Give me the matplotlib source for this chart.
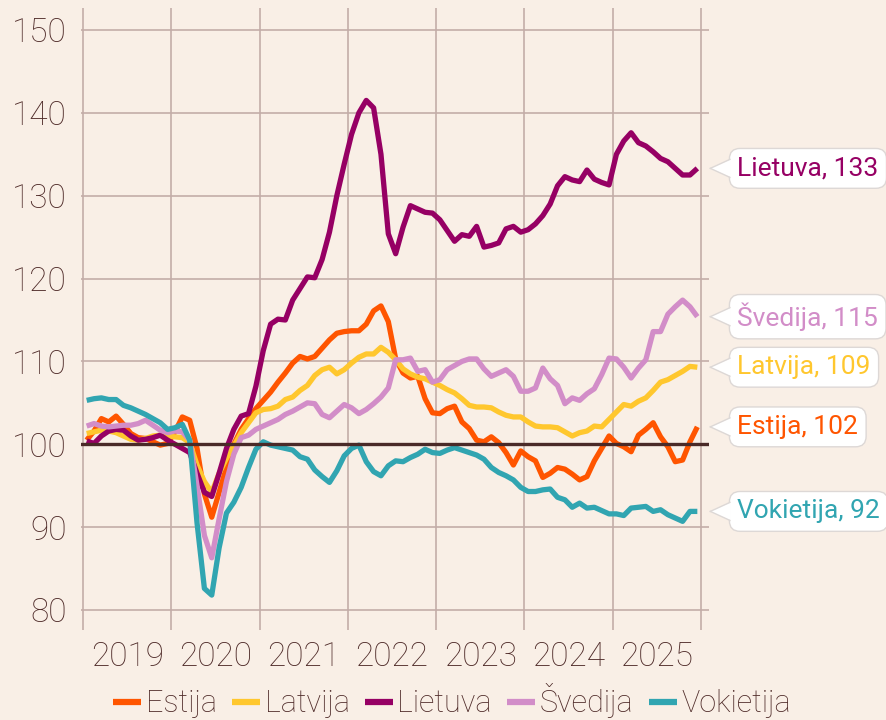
import numpy as np
import matplotlib
matplotlib.use("Agg")
import matplotlib.pyplot as plt
from matplotlib.patches import Polygon
from matplotlib.lines import Line2D
from matplotlib.transforms import IdentityTransform

plt.rcParams['font.family'] = ['Roboto', 'DejaVu Sans']

# ---------------- data (monthly index, Jan 2019 .. Dec 2025) ----------------
years = ['2019', '2020', '2021', '2022', '2023', '2024', '2025']
countries = ['Estija', 'Latvija', 'Lietuva', 'Švedija', 'Vokietija']

estija = [100.5, 101.6, 103.1, 102.7, 103.4, 102.4, 101.3, 100.8, 100.7, 100.3, 99.9, 100.1,
          101.5, 103.3, 102.9, 99.5, 94.0, 91.2, 94.2, 97.2, 100.0, 101.8, 103.1, 104.3,
          105.3, 106.3, 107.5, 108.6, 109.8, 110.6, 110.3, 110.6, 111.6, 112.6, 113.4, 113.6,
          113.7, 113.7, 114.5, 116.1, 116.7, 114.8, 110.3, 108.6, 108.0, 108.2, 105.5, 103.8,
          103.7, 104.3, 104.6, 102.7, 101.9, 100.5, 100.3, 100.9, 100.2, 99.0, 97.5, 99.2,
          98.5, 98.0, 96.0, 96.5, 97.2, 97.0, 96.4, 95.7, 96.1, 98.0, 99.5, 101.0,
          100.1, 99.7, 99.1, 101.1, 101.8, 102.6, 100.9, 99.7, 97.9, 98.1, 100.3, 102.1]

latvija = [101.3, 101.5, 101.7, 101.6, 101.4, 101.0, 100.6, 100.5, 100.7, 101.0, 101.1, 101.0,
           100.9, 100.8, 100.2, 97.5, 95.5, 94.2, 96.5, 98.3, 99.8, 101.4, 102.6, 103.8,
           104.2, 104.3, 104.6, 105.4, 105.7, 106.5, 107.1, 108.3, 109.0, 109.3, 108.5, 109.0,
           109.8, 110.5, 110.9, 110.9, 111.7, 111.1, 110.2, 109.1, 108.5, 108.1, 107.9, 107.5,
           107.1, 106.6, 106.2, 105.5, 104.7, 104.5, 104.5, 104.4, 103.9, 103.5, 103.3, 103.3,
           102.7, 102.2, 102.1, 102.1, 102.0, 101.5, 101.0, 101.4, 101.6, 102.2, 102.1, 103.0,
           103.9, 104.8, 104.6, 105.2, 105.6, 106.5, 107.5, 107.8, 108.3, 108.8, 109.4, 109.3]

lietuva = [100.4, 100.1, 101.0, 101.6, 101.8, 101.7, 101.0, 100.5, 100.6, 100.8, 101.1, 100.5,
           100.0, 99.5, 99.0, 96.5, 94.2, 93.7, 96.5, 99.5, 101.8, 103.4, 103.7, 107.0,
           111.3, 114.5, 115.1, 115.0, 117.4, 118.8, 120.2, 120.1, 122.3, 125.6, 130.0, 133.8,
           137.4, 140.0, 141.5, 140.6, 135.0, 125.4, 123.0, 126.2, 128.8, 128.4, 128.0, 127.9,
           127.1, 125.8, 124.5, 125.3, 125.1, 126.3, 123.8, 124.0, 124.3, 126.0, 126.3, 125.6,
           125.9, 126.6, 127.6, 129.0, 131.2, 132.3, 131.9, 131.7, 133.1, 132.0, 131.6, 131.3,
           135.0, 136.6, 137.6, 136.4, 136.0, 135.3, 134.5, 134.1, 133.3, 132.5, 132.5, 133.3]

svedija = [102.2, 102.5, 102.2, 102.1, 102.2, 102.3, 102.3, 102.5, 102.9, 102.3, 101.7, 101.4,
           101.6, 101.5, 100.5, 95.0, 89.0, 86.3, 91.0, 95.5, 98.8, 100.8, 101.1, 101.8,
           102.2, 102.6, 103.0, 103.6, 104.0, 104.5, 105.0, 104.9, 103.6, 103.2, 104.0, 104.8,
           104.4, 103.7, 104.2, 104.9, 105.7, 106.8, 110.2, 110.2, 110.4, 108.8, 109.0, 107.5,
           107.8, 109.0, 109.5, 110.0, 110.3, 110.3, 109.1, 108.2, 108.6, 109.0, 108.2, 106.4,
           106.4, 106.8, 109.2, 107.9, 107.1, 104.9, 105.6, 105.3, 106.1, 106.7, 108.4, 110.4,
           110.3, 109.3, 108.0, 109.2, 110.2, 113.6, 113.6, 115.7, 116.6, 117.4, 116.6, 115.4]

vokietija = [105.3, 105.5, 105.6, 105.4, 105.4, 104.7, 104.4, 104.0, 103.6, 103.1, 102.6, 101.8,
             102.0, 102.4, 100.5, 90.5, 82.6, 81.8, 87.5, 91.7, 93.0, 94.8, 97.2, 99.4,
             100.3, 99.9, 99.7, 99.5, 99.3, 98.5, 98.2, 96.9, 96.1, 95.4, 96.8, 98.6,
             99.5, 99.9, 97.9, 96.7, 96.2, 97.4, 98.0, 97.9, 98.4, 98.8, 99.4, 99.0,
             98.9, 99.3, 99.6, 99.3, 99.0, 98.7, 98.2, 97.2, 96.6, 96.2, 95.7, 94.8,
             94.3, 94.3, 94.5, 94.6, 93.6, 93.3, 92.4, 92.9, 92.3, 92.4, 92.0, 91.6,
             91.6, 91.4, 92.3, 92.4, 92.5, 91.9, 92.1, 91.5, 91.1, 90.7, 91.9, 91.9]

series = [estija, latvija, lietuva, svedija, vokietija]
y_ticks = [80, 90, 100, 110, 120, 130, 140, 150]
baseline = 100

# ---------------- style ----------------
BG = '#F9EFE6'
TXT = '#4E2A28'
GRID = '#C3ADA8'
BASE = '#4A2A28'
colors = ['#FF5500', '#FFC72E', '#960064', '#D28DC8', '#31A5B1']

W, H = 887, 720
fig = plt.figure(figsize=(W / 100, H / 100), dpi=100, facecolor=BG)
ax = fig.add_axes([81 / W, 90 / H, 628 / W, 622 / H])
ax.set_facecolor(BG)

n = len(estija)
x = np.arange(n) + 0.5

for vals, c in zip(series, colors):
    ax.plot(x, vals, color=c, lw=3.8, solid_joinstyle='round', solid_capstyle='butt', zorder=3)

ax.axhline(baseline, color=BASE, lw=2.4, zorder=4)

ax.set_xlim(-0.272, 85.087)
ax.set_ylim(77.586, 152.655)

ax.set_yticks(y_ticks)
ax.set_yticklabels([str(v) for v in y_ticks])
ax.set_xticks(np.arange(0, 12 * len(years) + 1, 12))
ax.set_xticklabels([])
ax.set_xticks(np.arange(len(years)) * 12 + 6, minor=True)
ax.set_xticklabels(years, minor=True)
ax.tick_params(axis='y', length=0, pad=10, labelsize=24, labelcolor=TXT)
ax.tick_params(axis='x', which='both', length=0, pad=8, labelsize=24, labelcolor=TXT)
for lab in ax.get_yticklabels() + ax.get_xticklabels(minor=True):
    lab.set_fontweight('light')

ax.grid(True, which='major', color=GRID, lw=1.2, zorder=1)
ax.set_axisbelow(True)
for s in ax.spines.values():
    s.set_visible(False)

# ---------------- callouts ----------------
fs_call = 19
pad_frac = 0.3
pad_px = pad_frac * fs_call * 100 / 72
for name, vals, c in zip(countries, series, colors):
    last = vals[-1]
    label = f"{name}, {int(round(last))}"
    ax.annotate(label, xy=(x[-1], last), xycoords='data', xytext=(40, 0),
                textcoords='offset pixels', ha='left', va='center', fontsize=fs_call,
                color=c, zorder=10, annotation_clip=False,
                bbox=dict(boxstyle=f'round,pad={pad_frac},rounding_size=0.4', fc='white',
                          ec='#DDD8D6', lw=1.0))
    px, py = ax.transData.transform((x[-1], last))
    tip = (px + 13, py)
    bx = px + 40 - pad_px
    tri = Polygon([(tip[0], tip[1]), (bx + 1.5, py + 9), (bx + 1.5, py - 9)], closed=True,
                  fc='white', ec='none', transform=IdentityTransform(), zorder=11)
    fig.add_artist(tri)
    for dy in (9, -9):
        fig.add_artist(Line2D([tip[0], bx + 0.5], [tip[1], py + dy], color='#DDD8D6', lw=1.0,
                              transform=IdentityTransform(), zorder=12))

# ---------------- legend ----------------
handles = [Line2D([0], [0], color=c, lw=4.5, solid_capstyle='butt') for c in colors]
leg = fig.legend(handles, countries, loc='center', bbox_to_anchor=(452 / W, 1 - 701 / H),
                 ncol=5, frameon=False, fontsize=22, handlelength=0.92, handletextpad=0.15,
                 columnspacing=0.5, borderpad=0, borderaxespad=0)
for t in leg.get_texts():
    t.set_color(TXT)
    t.set_fontweight('light')

fig.savefig('out.png', dpi=100, facecolor=BG)
